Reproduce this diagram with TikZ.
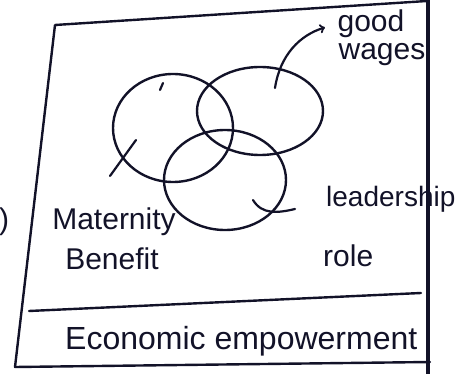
\documentclass[tikz,border=0pt]{standalone}
\usepackage{fontspec}
\setmainfont{Liberation Sans}
\usetikzlibrary{shapes.geometric}
\definecolor{ink}{RGB}{18,18,40}
\tikzset{
  ring/.style={draw,ellipse,inner sep=0pt},
  hand/.style={font=\fontsize{30}{32}\selectfont,inner sep=0pt}
}
\begin{document}
\begin{tikzpicture}[x=1pt,y=-1pt,line width=2.4pt,line cap=round,line join=round,color=ink]
      \useasboundingbox (0,0) rectangle (458,374);
      \draw
        (55,25) -- (427,1)
        (55,25) -- (15,367) -- (430,362)
        (29,311) -- (421,293);
      \draw[line width=4.5pt] (428,0) -- (428,374);
      \draw
        (173,128) node[ring,minimum width=120pt,minimum height=108pt] (matC){}
        (260,111) node[ring,minimum width=126pt,minimum height=88pt] (wageC){}
        (225,180) node[ring,minimum width=122pt,minimum height=100pt] (leadC){}
        (371,24) node[hand] (good){good}
        (382,55) node[hand] (wages){wages}
        (114,222) node[hand] (mat){Maternity}
        (112,259) node[hand] (ben){Benefit}
        (325,199) node[hand,anchor=west,font=\fontsize{28}{30}\selectfont] (lead){leadership}
        (322,256) node[hand,anchor=west] (role){role}
        (64,341) node[hand,anchor=west,font=\fontsize{32}{34}\selectfont] (econ){Economic empowerment}
        (4,222) node[hand] (par){)};
      \coordinate (matIn) at (136,140);
      \coordinate (wageIn) at (275,88);
      \coordinate (leadIn) at (253,200);
      \coordinate (leadOut) at (295,209);
      \begin{scope}[line width=2.2pt]
        \draw (matIn) to (110,176);
        \draw (163,83) to (160,90);
        \draw[->,shorten >=12pt] (wageIn) .. controls (280,55) and (300,35) .. (good.west);
        \draw (leadIn) .. controls (262,215) and (278,213) .. (leadOut);
      \end{scope}
    \end{tikzpicture}
\end{document}
